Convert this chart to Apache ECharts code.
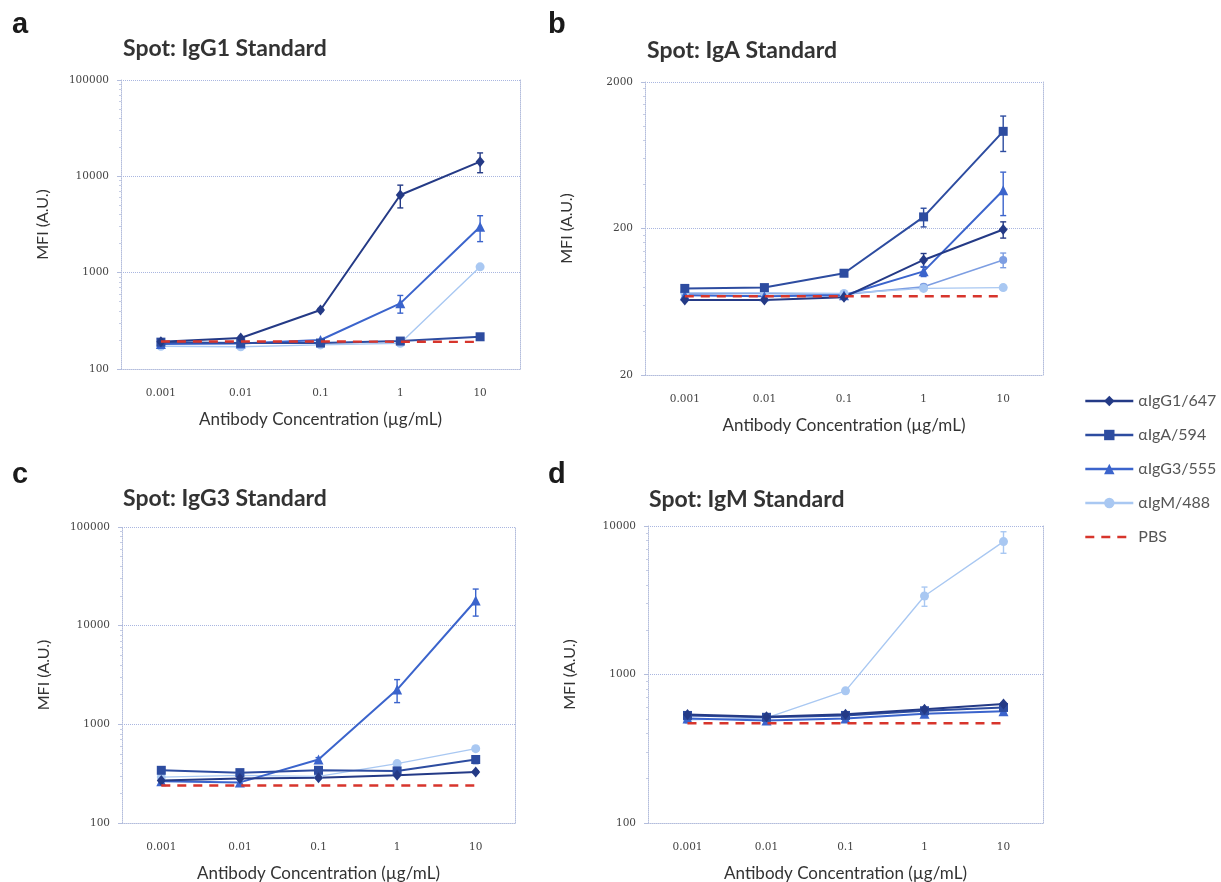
<!DOCTYPE html>
<html>
<head>
<meta charset="utf-8">
<title>Spot titration MFI</title>
<script src="https://cdn.jsdelivr.net/npm/echarts@6/dist/echarts.min.js"></script>
<style>
  html, body { margin: 0; padding: 0; background: #ffffff; }
  #chart { width: 1221px; height: 882px; }
</style>
</head>
<body>
<div id="chart"></div>
<script>
// ---- categories and tick labels ----
const concentrations = ['0.001', '0.01', '0.1', '1', '10'];
const antibodyNames = ['αIgG1/647', 'αIgA/594', 'αIgG3/555', 'αIgM/488'];
const controlName = 'PBS';

const ticksIgG1Spot = [100, 1000, 10000, 100000];
const ticksIgASpot = [20, 200, 2000];
const ticksIgG3Spot = [100, 1000, 10000, 100000];
const ticksIgMSpot = [100, 1000, 10000];

// ---- Spot: IgG1 Standard ----
const igg1Spot_aIgG1 = [192, 210, 410, 6400, 14200];
const igg1Spot_aIgA = [190, 186, 186, 195, 216];
const igg1Spot_aIgG3 = [182, 184, 200, 480, 3000];
const igg1Spot_aIgM = [172, 170, 178, 185, 1150];
const igg1Spot_pbs = [193, 193, 193, 192, 191];
const igg1SpotErr_aIgG1 = [0, 0, 15, 1700, 3300];
const igg1SpotErr_aIgA = [0, 0, 0, 0, 10];
const igg1SpotErr_aIgG3 = [0, 0, 0, 100, 900];
const igg1SpotErr_aIgM = [0, 0, 0, 0, 60];

// ---- Spot: IgA Standard ----
const igaSpot_aIgG1 = [65, 65, 68, 122, 197];
const igaSpot_aIgA = [78, 79, 99, 240, 921];
const igaSpot_aIgG3 = [70, 69, 70, 102, 365];
const igaSpot_aIgM = [73, 73, 72, 78, 79];
const igaSpot_fifth = [72, 72, 71, 80, 122];
const igaSpot_pbs = [69, 69, 69, 69, 69];
const igaSpotErr_aIgG1 = [0, 0, 0, 13, 25];
const igaSpotErr_aIgA = [0, 0, 3, 35, 250];
const igaSpotErr_aIgG3 = [0, 0, 0, 8, 120];
const igaSpotErr_aIgM = [0, 0, 0, 2, 3];
const igaSpotErr_fifth = [0, 0, 0, 3, 14];

// ---- Spot: IgG3 Standard ----
const igg3Spot_aIgG1 = [270, 282, 288, 304, 329];
const igg3Spot_aIgA = [342, 324, 342, 337, 440];
const igg3Spot_aIgG3 = [265, 258, 440, 2250, 18000];
const igg3Spot_aIgM = [292, 304, 297, 400, 567];
const igg3Spot_pbs = [240, 240, 240, 240, 240];
const igg3SpotErr_aIgG1 = [0, 0, 0, 0, 10];
const igg3SpotErr_aIgA = [0, 0, 0, 15, 40];
const igg3SpotErr_aIgG3 = [0, 0, 20, 590, 5500];
const igg3SpotErr_aIgM = [0, 0, 0, 0, 30];

// ---- Spot: IgM Standard ----
const igmSpot_aIgG1 = [538, 520, 540, 584, 632];
const igmSpot_aIgA = [530, 515, 530, 570, 600];
const igmSpot_aIgG3 = [505, 490, 505, 545, 565];
const igmSpot_aIgM = [495, 510, 776, 3380, 7850];
const igmSpot_pbs = [470, 470, 470, 470, 470];
const igmSpotErr_aIgG1 = [0, 0, 0, 10, 15];
const igmSpotErr_aIgA = [0, 0, 0, 10, 15];
const igmSpotErr_aIgG3 = [0, 0, 0, 10, 15];
const igmSpotErr_aIgM = [0, 0, 30, 500, 1300];

// ---- styles ----
const antibodyColors = ['#243a86', '#2d4ca0', '#3b64cc', '#a9c8f2'];
const fifthColor = '#7d9ee2';
const pbsColor = '#d7352c';
const antibodySymbols = ['diamond', 'rect', 'triangle', 'circle'];
const antibodySymbolSizes = [[9, 11], 9, 10, 9];
const antibodyLineWidths = [2, 2, 2, 1.4];
const frameColor = '#b3bddc';
const textFont = 'Lato';
const tickFont = 'DejaVu Serif';

const panels = [
  { letter: 'a', title: 'Spot: IgG1 Standard', ticks: ticksIgG1Spot,
    lines: [igg1Spot_aIgG1, igg1Spot_aIgA, igg1Spot_aIgG3, igg1Spot_aIgM],
    errs: [igg1SpotErr_aIgG1, igg1SpotErr_aIgA, igg1SpotErr_aIgG3, igg1SpotErr_aIgM],
    pbs: igg1Spot_pbs },
  { letter: 'b', title: 'Spot: IgA Standard', ticks: ticksIgASpot,
    lines: [igaSpot_aIgG1, igaSpot_aIgA, igaSpot_aIgG3, igaSpot_aIgM],
    errs: [igaSpotErr_aIgG1, igaSpotErr_aIgA, igaSpotErr_aIgG3, igaSpotErr_aIgM],
    fifth: igaSpot_fifth, fifthErr: igaSpotErr_fifth,
    pbs: igaSpot_pbs },
  { letter: 'c', title: 'Spot: IgG3 Standard', ticks: ticksIgG3Spot,
    lines: [igg3Spot_aIgG1, igg3Spot_aIgA, igg3Spot_aIgG3, igg3Spot_aIgM],
    errs: [igg3SpotErr_aIgG1, igg3SpotErr_aIgA, igg3SpotErr_aIgG3, igg3SpotErr_aIgM],
    pbs: igg3Spot_pbs },
  { letter: 'd', title: 'Spot: IgM Standard', ticks: ticksIgMSpot,
    lines: [igmSpot_aIgG1, igmSpot_aIgA, igmSpot_aIgG3, igmSpot_aIgM],
    errs: [igmSpotErr_aIgG1, igmSpotErr_aIgA, igmSpotErr_aIgG3, igmSpotErr_aIgM],
    pbs: igmSpot_pbs }
];

// plot boxes and heading placement for the 2x2 layout
const boxes = [
  { left: 121, top: 80, width: 399, height: 289, letterX: 7, letterY: 5, titleX: 118, titleY: 32 },
  { left: 645, top: 82, width: 398, height: 293, letterX: 543, letterY: 5, titleX: 642, titleY: 34 },
  { left: 122, top: 527, width: 393, height: 296, letterX: 7, letterY: 455, titleX: 118, titleY: 482 },
  { left: 648, top: 526, width: 395, height: 297, letterX: 543, letterY: 455, titleX: 644, titleY: 483 }
];

const log10 = v => Math.log10(v);
const fmtTick = v => String(Math.round(Math.pow(10, v)));

function minorTicks(majors) {
  const out = [];
  for (let i = 0; i < majors.length - 1; i++) {
    for (let k = 2; k <= 9; k++) out.push(log10(majors[i] * k));
  }
  return out;
}

function errorBarSeries(gridIdx, color, values, errs) {
  const data = [];
  values.forEach((v, i) => {
    if (errs[i] > 0) data.push([i, log10(Math.max(v - errs[i], 1)), log10(v + errs[i])]);
  });
  return {
    type: 'custom',
    xAxisIndex: gridIdx,
    yAxisIndex: gridIdx * 3,
    silent: true,
    z: 2,
    encode: { x: 0, y: [1, 2] },
    data: data,
    renderItem: function (params, api) {
      const x = api.value(0);
      const lo = api.coord([x, api.value(1)]);
      const hi = api.coord([x, api.value(2)]);
      const w = 3;
      const style = { stroke: color, lineWidth: 1.4, fill: null };
      return {
        type: 'group',
        children: [
          { type: 'line', shape: { x1: lo[0], y1: lo[1], x2: hi[0], y2: hi[1] }, style: style },
          { type: 'line', shape: { x1: lo[0] - w, y1: lo[1], x2: lo[0] + w, y2: lo[1] }, style: style },
          { type: 'line', shape: { x1: hi[0] - w, y1: hi[1], x2: hi[0] + w, y2: hi[1] }, style: style }
        ]
      };
    }
  };
}

const grid = [], xAxis = [], yAxis = [], series = [], titles = [];

panels.forEach((p, g) => {
  const b = boxes[g];
  const lo = log10(p.ticks[0]);
  const hi = log10(p.ticks[p.ticks.length - 1]);
  const majors = p.ticks.map(log10);

  grid.push({ left: b.left, top: b.top, width: b.width, height: b.height, outerBoundsMode: 'none' });

  titles.push({
    text: p.letter, left: b.letterX, top: b.letterY,
    textStyle: { fontFamily: 'Liberation Sans', fontWeight: 'bold', fontSize: 29, color: '#1a1a1a' }
  });
  titles.push({
    text: p.title, left: b.titleX, top: b.titleY,
    textStyle: { fontFamily: textFont, fontWeight: 'bold', fontSize: 23, color: '#333333' }
  });

  xAxis.push({
    type: 'category', gridIndex: g, data: concentrations, boundaryGap: true,
    axisLine: { show: true, lineStyle: { color: frameColor, type: 'dotted', width: 1 } },
    axisTick: { show: false },
    axisLabel: { margin: 19, fontFamily: tickFont, fontSize: 10.5, color: '#444444' },
    splitLine: { show: false },
    name: 'Antibody Concentration (µg/mL)', nameLocation: 'middle', nameGap: 42,
    nameTextStyle: { fontFamily: textFont, fontSize: 17, color: '#333333' }
  });

  // main value axis: decade labels and gridlines
  yAxis.push({
    type: 'value', gridIndex: g, position: 'left', min: lo, max: hi,
    axisLine: { show: false },
    axisTick: { show: true, customValues: majors, length: 4, lineStyle: { color: frameColor } },
    axisLabel: { customValues: majors, formatter: fmtTick, margin: 12,
      fontFamily: tickFont, fontSize: 10.5, color: '#444444' },
    splitLine: { show: true, lineStyle: { color: '#a9b6e0', type: 'dotted', width: 1 } },
    name: 'MFI (A.U.)', nameLocation: 'middle', nameRotate: 90, nameGap: 70,
    nameTextStyle: { fontFamily: textFont, fontSize: 16, color: '#333333' }
  });
  // minor log ticks along the left edge
  yAxis.push({
    type: 'value', gridIndex: g, position: 'left', min: lo, max: hi,
    axisLine: { show: true, lineStyle: { color: frameColor, type: 'dotted', width: 1 } },
    axisTick: { show: true, customValues: minorTicks(p.ticks), length: 2, lineStyle: { color: '#c6cde4' } },
    axisLabel: { show: false },
    splitLine: { show: false }
  });
  // right frame edge
  yAxis.push({
    type: 'value', gridIndex: g, position: 'right', min: lo, max: hi,
    axisLine: { show: true, lineStyle: { color: frameColor, type: 'dotted', width: 1 } },
    axisTick: { show: false }, axisLabel: { show: false }, splitLine: { show: false }
  });

  p.lines.forEach((vals, k) => {
    series.push(errorBarSeries(g, antibodyColors[k], vals, p.errs[k]));
  });
  if (p.fifth) {
    series.push(errorBarSeries(g, fifthColor, p.fifth, p.fifthErr));
    series.push({
      name: 'αIgM/488 alt', type: 'line', xAxisIndex: g, yAxisIndex: g * 3,
      data: p.fifth.map(log10), symbol: 'circle', symbolSize: 8, z: 3,
      lineStyle: { color: fifthColor, width: 1.6 }, itemStyle: { color: fifthColor }
    });
  }
  // draw light series first so the dark ones sit on top
  [3, 2, 1, 0].forEach(k => {
    series.push({
      name: antibodyNames[k], type: 'line', xAxisIndex: g, yAxisIndex: g * 3,
      data: p.lines[k].map(log10),
      symbol: antibodySymbols[k], symbolSize: antibodySymbolSizes[k], z: 3,
      lineStyle: { color: antibodyColors[k], width: antibodyLineWidths[k] },
      itemStyle: { color: antibodyColors[k] }
    });
  });
  series.push({
    name: controlName, type: 'line', xAxisIndex: g, yAxisIndex: g * 3,
    data: p.pbs.map(log10), symbol: 'none', z: 4,
    lineStyle: { color: pbsColor, width: 2.4, type: [9, 7] },
    itemStyle: { color: pbsColor }
  });
});

const chart = echarts.init(document.getElementById('chart'), null, { renderer: 'canvas' });
chart.setOption({
  backgroundColor: '#ffffff',
  animation: false,
  title: titles,
  grid: grid,
  xAxis: xAxis,
  yAxis: yAxis,
  legend: {
    data: antibodyNames.map(n => ({ name: n })).concat([
      { name: controlName, itemStyle: { opacity: 0 } }
    ]),
    orient: 'vertical', left: 1084, top: 393, padding: 0,
    itemWidth: 48, itemHeight: 13, itemGap: 18,
    lineStyle: { width: 2.6 },
    textStyle: { fontFamily: textFont, fontSize: 16, color: '#555555' },
    selectedMode: false
  },
  series: series
});
</script>
</body>
</html>
